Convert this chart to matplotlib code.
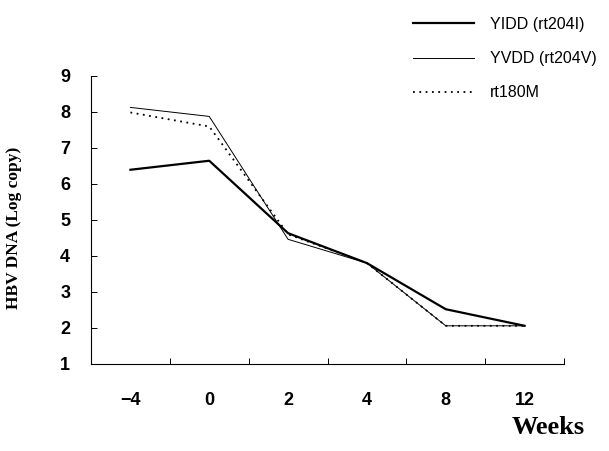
import numpy as np
import matplotlib.pyplot as plt

# data
weeks = ['-4', '0', '2', '4', '8', '12']
yidd = [6.39, 6.64, 4.63, 3.80, 2.52, 2.06]     # YIDD (rt204I)
yvdd = [8.12, 7.87, 4.46, 3.80, 2.06, 2.06]     # YVDD (rt204V)
rt180m = [7.98, 7.59, 4.60, 3.80, 2.06, 2.06]   # rt180M
yticks = [1, 2, 3, 4, 5, 6, 7, 8, 9]

fig = plt.figure(figsize=(6.09, 4.51), dpi=100)
ax = fig.add_axes([91/609, 1-364/451, (564-91)/609, (364-75.7)/451])

x = np.arange(len(weeks))
l1, = ax.plot(x, yidd, color='black', lw=1.6, label='YIDD (rt204I)')
l2, = ax.plot(x, yvdd, color='black', lw=0.7, label='YVDD (rt204V)')
l3, = ax.plot(x, rt180m, color='black', lw=1.3, ls=(0, (1, 2.5)), label='rt180M')

ax.set_xlim(-0.5, len(weeks) - 0.5)
ax.set_ylim(1, 9)
for s in ['top', 'right']:
    ax.spines[s].set_visible(False)
ax.spines['left'].set_linewidth(0.8)
ax.spines['bottom'].set_linewidth(0.8)

# category labels in the middle, small tick marks on the boundaries
ax.set_xticks(x)
ax.set_xticklabels([w.replace('-', '\u2212') for w in weeks])
ax.set_xticks(np.arange(0.5, len(weeks), 1), minor=True)
ax.tick_params(axis='x', which='major', length=0, pad=20)
ax.tick_params(axis='x', which='minor', direction='in', length=4, width=0.7)
ax.set_yticks(yticks)
ax.tick_params(axis='y', direction='in', length=4, width=0.7, pad=15)
for lab in ax.get_xticklabels() + ax.get_yticklabels():
    lab.set_fontfamily('Liberation Sans')
    lab.set_fontweight('bold')
    lab.set_fontsize(13)

fig.text(14/609, 1-228/451, 'HBV DNA (Log copy)', rotation=90, ha='center', va='center',
         family='Liberation Serif', weight='bold', fontsize=12.5)
fig.text(548/609, 1-428/451, 'Weeks', ha='center', va='center',
         family='Liberation Serif', weight='bold', fontsize=19)

fig.legend(handles=[l1, l2, l3], loc='upper left', bbox_to_anchor=(405/609, 1-9/451),
           frameon=False, borderpad=0, handlelength=3.8, handletextpad=1.0,
           labelspacing=1.2, prop={'family': 'Liberation Sans', 'size': 11.5})

fig.savefig('out.png', dpi=100)
